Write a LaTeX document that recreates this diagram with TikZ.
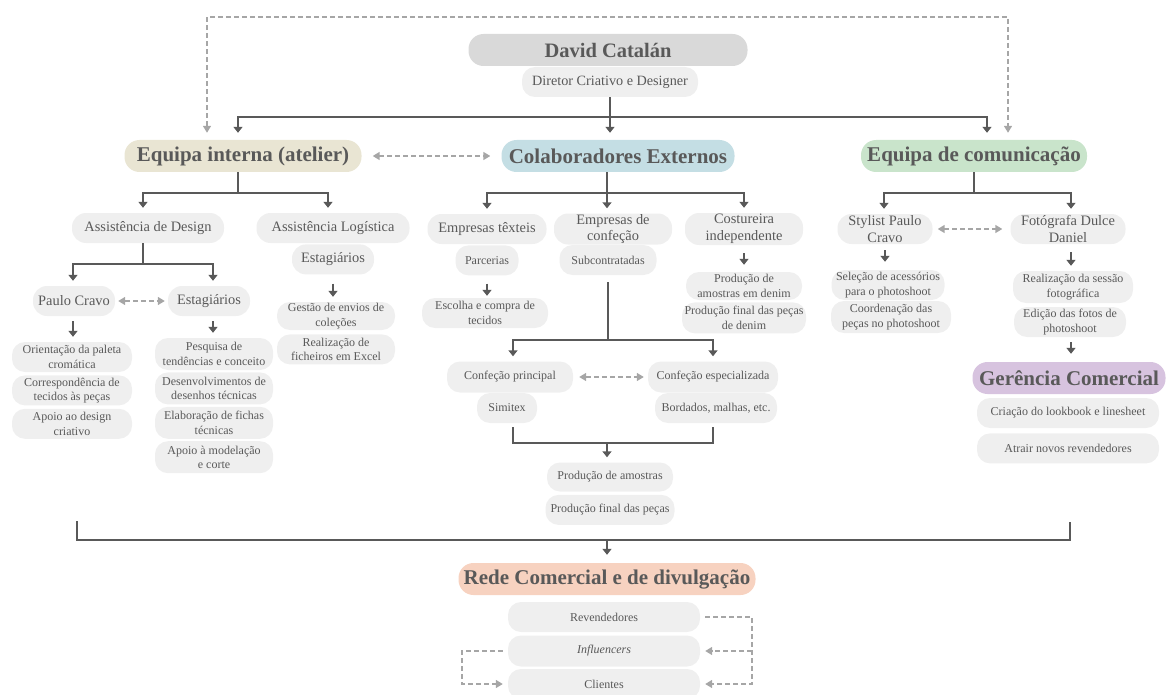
\documentclass[tikz,border=0pt]{standalone}
\usepackage{fontspec}
\setmainfont{Liberation Serif}
\usetikzlibrary{positioning,calc,arrows.meta}
\definecolor{ink}{HTML}{595959}
\definecolor{pale}{HTML}{EFEFEF}
\definecolor{mid}{HTML}{D9D9D9}
\definecolor{beige}{HTML}{E9E5D3}
\definecolor{aqua}{HTML}{C4DEE4}
\definecolor{mint}{HTML}{C9E4CB}
\definecolor{lilac}{HTML}{D7C3DF}
\definecolor{peach}{HTML}{F7D2C0}
\definecolor{dashgray}{HTML}{A6A6A6}
\tikzset{standard edge/.style={draw=ink,line width=2pt,-{Triangle[width=9pt,length=6pt]},shorten >=5pt},
 plain edge/.style={draw=ink,line width=2pt},
 dash line/.style={draw=dashgray,line width=1.5pt,dash pattern=on 5pt off 3pt,shorten >=5pt,shorten <=5pt},
 dash edge/.style={dash line,{Triangle[width=8pt,length=7pt]}-{Triangle[width=8pt,length=7pt]}},
 dash arrow/.style={dash line,-{Triangle[width=8pt,length=7pt]}}}

\begin{document}
\begin{tikzpicture}[x=1pt,y=-1pt,
 head/.style 2 args={fill=#1,text=ink,font=\bfseries\fontsize{21}{24}\selectfont,rounded corners=15pt,minimum height=32pt,minimum width=#2,inner sep=1pt},
 branch/.style={fill=pale,text=ink,font=\fontsize{14.4}{16.5}\selectfont,rounded corners=14pt,minimum height=30pt,minimum width=#1,align=center,inner xsep=2pt,inner ysep=0pt},
 task/.style={fill=pale,text=ink,font=\fontsize{12}{14.5}\selectfont,rounded corners=13pt,minimum height=30pt,minimum width=#1,align=center,inner xsep=2pt,inner ysep=0pt}]
\useasboundingbox (0,0) rectangle (1166,695);

\node[head={mid}{279},font=\bfseries\fontsize{20.5}{24}\selectfont] (DC) at (608,50) {David Catalán};
\node[task=176,font=\fontsize{14.2}{16}\selectfont] (DIR) at (610,82) {Diretor Criativo e Designer};

\node[head={beige}{237}] (EI) at (243,156) {Equipa interna (atelier)};
\node[head={aqua}{233}] (CO) at (618,156) {Colaboradores Externos};
\node[head={mint}{226}] (EC) at (974,156) {Equipa de comunicação};

\node[branch=152] (AD) at (148,228) {Assistência de Design};
\node[branch=153] (AL) at (333,228) {Assistência Logística};
\node[branch=82,below=1pt of AL] (ALE) {Estagiários};
\node[branch=82] (PC) at (74,301) {Paulo Cravo};
\node[branch=82] (ADE) at (209,301) {Estagiários};

\node[task=120] (PC1) at (72,357) {Orientação da paleta\\cromática};
\node[task=120,below=3pt of PC1] (PC2) {Correspondência de\\tecidos às peças};
\node[task=120,below=3pt of PC2] (PC3) {Apoio ao design\\criativo};
\node[task=118,minimum height=32pt] (ADE1) at (214,354) {Pesquisa de\\tendências e conceito};
\node[task=118,minimum height=32pt,below=2pt of ADE1] (ADE2) {Desenvolvimentos de\\desenhos técnicas};
\node[task=118,minimum height=32pt,below=2pt of ADE2] (ADE3) {Elaboração de fichas\\técnicas};
\node[task=118,minimum height=32pt,below=2pt of ADE3] (ADE4) {Apoio à modelação\\e corte};
\node[task=118,minimum height=28pt] (ALE1) at (336,316) {Gestão de envios de\\coleções};
\node[task=118,below=4pt of ALE1] (ALE2) {Realização de\\ficheiros em Excel};

\node[branch=119] (ET) at (487,229) {Empresas têxteis};
\node[task=63,below=1pt of ET] (PAR) {Parcerias};
\node[task=126] (ESC) at (485,313) {Escolha e compra de\\tecidos};
\node[branch=118,minimum height=31pt] (EM) at (613,229) {Empresas de\\confeção};
\node[task=97] (SUB) at (608,260) {Subcontratadas};
\node[branch=118,minimum height=32pt] (CI) at (744,229) {Costureira\\independente};
\node[task=116,minimum height=28pt] (CI1) at (744,286) {Produção de\\amostras em denim};
\node[task=124,minimum height=31pt,below=2pt of CI1] (CI2) {Produção final das peças\\de denim};
\node[task=126,minimum height=31pt] (CP) at (510,377) {Confeção principal};
\node[task=60] (SIM) at (507,408) {Simitex};
\node[task=130,minimum height=31pt] (CES) at (713,377) {Confeção especializada};
\node[task=122] (BOR) at (716,408) {Bordados, malhas, etc.};
\node[task=126,minimum height=29pt] (PA) at (610,477) {Produção de amostras};
\node[task=129,below=3pt of PA] (PF) {Produção final das peças};

\node[branch=95] (SP) at (885,229) {Stylist Paulo\\Cravo};
\node[branch=115] (FD) at (1068,229) {Fotógrafa Dulce\\Daniel};
\node[task=113] (SP1) at (888,285) {Seleção de acessórios\\para o photoshoot};
\node[task=120,minimum height=32pt] (SP2) at (891,317) {Coordenação das\\peças no photoshoot};
\node[task=120,minimum height=32pt] (FD1) at (1073,287) {Realização da sessão\\fotográfica};
\node[task=112] (FD2) at (1070,322) {Edição das fotos de\\photoshoot};
\node[head={lilac}{193}] (GC) at (1069,378) {Gerência Comercial};
\node[task=182] (GC1) at (1068,413) {Criação do lookbook e linesheet};
\node[task=182,below=5pt of GC1] (GC2) {Atrair novos revendedores};

\node[head={peach}{297}] (RC) at (607,579) {Rede Comercial e de divulgação};
\node[task=192] (RV) at (604,617) {Revendedores};
\node[task=192,minimum height=31pt] (IN) at (604,651) {\textit{Influencers}};
\node[task=192] (CL) at (604,684) {Clientes};

\coordinate (TOP) at (608,17);
\coordinate (HUB) at ($(DIR.south)+(-2,20)$);
\draw[standard edge,shorten >=7pt] (DIR.south) -- (DIR.south |- CO.north);
\draw[standard edge,shorten >=7pt] (HUB) -| ([xshift=-5pt]EI.north);
\draw[standard edge,shorten >=7pt] (HUB) -| ([xshift=13pt]EC.north);
\draw[dash edge,shorten <=7pt,shorten >=7pt] ([xshift=-36pt]EI.north) |- (TOP) -| ([xshift=34pt]EC.north);
\draw (EI) edge[dash edge,shorten <=11pt,shorten >=11pt] (CO);

\draw[standard edge] ([xshift=-5pt]EI.south) -- ++(0,21) -| ([xshift=-5pt]AD.north);
\draw[standard edge] ([xshift=-5pt]EI.south) -- ++(0,21) -| ([xshift=-5pt]AL.north);
\draw[standard edge] ([xshift=-5pt]AD.south) -- ++(0,21) -| ([xshift=-1pt]PC.north);
\draw[standard edge] ([xshift=-5pt]AD.south) -- ++(0,21) -| ([xshift=4pt]ADE.north);
\draw (PC) edge[dash edge,shorten <=3pt,shorten >=3pt] (ADE);
\draw[standard edge,shorten <=5pt] ([xshift=-1pt]PC.south) -- ([xshift=-1pt]PC.south |- PC1.north);
\draw[standard edge,shorten <=5pt] ([xshift=4pt]ADE.south) -- ([xshift=4pt]ADE.south |- ADE1.north);
\draw[standard edge,shorten <=9pt] (ALE.south) -- (ALE.south |- ALE1.north);

\draw[standard edge] ([xshift=-11pt]CO.south) -- ++(0,21) -| (ET.north);
\draw[standard edge] ([xshift=-11pt]CO.south) -- ++(0,21) -| (CI.north);
\draw[standard edge] ([xshift=-11pt]CO.south) -- ([xshift=-11pt]CO.south |- EM.north);
\draw[standard edge,shorten <=8pt,shorten >=2pt] (PAR.south) -- (PAR.south |- ESC.north);
\draw[standard edge,shorten <=8pt,shorten >=7pt] (CI.south) -- (CI.south |- CI1.north);
\coordinate (SJ) at ($(SUB.south)+(0,65)$);
\draw[plain edge,shorten <=7pt] (SUB.south) -- (SJ);
\draw[standard edge] (SJ) -| ([xshift=3pt]CP.north);
\draw[standard edge] (SJ) -| (CES.north);
\draw (CP) edge[dash edge,shorten <=6pt,shorten >=4pt] (CES);
\coordinate (MG) at ($(PA.north)+(-3,-19)$);
\draw[plain edge] ([shift={(6,4)}]SIM.south) |- (MG) -| ([shift={(-3,4)}]BOR.south);
\draw[standard edge] (MG) -- (MG |- PA.north);

\draw[standard edge] (EC.south) -- ++(0,21) -| ([xshift=-1pt]SP.north);
\draw[standard edge] (EC.south) -- ++(0,21) -| ([xshift=3pt]FD.north);
\draw (SP) edge[dash edge,shorten <=5pt,shorten >=8pt] (FD);
\draw[standard edge,shorten <=6pt,shorten >=8pt] (SP.south) -- (SP.south |- SP1.north);
\draw[standard edge,shorten <=8pt,shorten >=5pt] ([xshift=3pt]FD.south) -- ([xshift=3pt]FD.south |- FD1.north);
\draw[standard edge,shorten <=5pt,shorten >=8pt] ([xshift=1pt]FD2.south) -- ([xshift=1pt]FD2.south |- GC.north);

\coordinate (BL) at (77,521);
\coordinate (BR) at (1070,522);
\coordinate (BM) at (607,540);
\draw[plain edge] (BL) |- (BM) -| (BR);
\draw[standard edge,shorten >=8pt] (BM) -- (BM |- RC.north);

\coordinate (RR) at ($(RV.east)+(52,0)$);
\coordinate (LL) at ($(IN.west)+(-46,0)$);
\draw[dash arrow] (RV.east) -- (RR) |- (CL.east);
\draw[dash arrow,shorten <=0pt] (IN.east -| RR) -- (IN.east);
\draw[dash arrow] (IN.west) -- (LL) |- (CL.west);
\end{tikzpicture}
\end{document}
